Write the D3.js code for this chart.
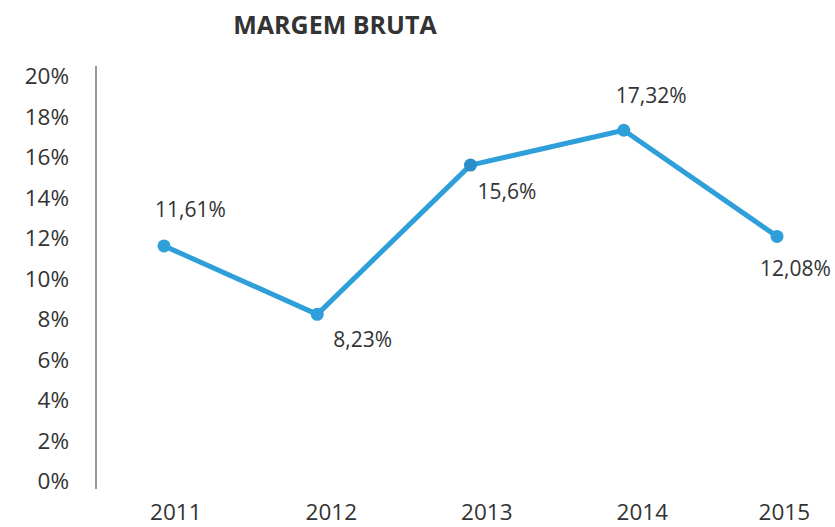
<!DOCTYPE html>
<html><head><meta charset="utf-8">
<script src="https://cdn.jsdelivr.net/npm/d3@7"></script>
<style>body{margin:0;background:#fff}text{font-family:"Open Sans",sans-serif;fill:#333}</style>
</head><body><svg id="c" width="835" height="527"></svg>
<script>
const title = "MARGEM BRUTA";
const years = ["2011","2012","2013","2014","2015"];
const margin = [11.61, 8.23, 15.6, 17.32, 12.08];
const valueLabels = ["11,61%","8,23%","15,6%","17,32%","12,08%"];
const labelShiftX = [-9, 16, 7, -8, -17];
const labelShiftY = [-29, 33, 34, -27, 40];
const yTicks = [0,2,4,6,8,10,12,14,16,18,20];

const svg = d3.select("#c");
const y = d3.scaleLinear().domain([0,20]).range([481,76]);
const x = d3.scalePoint().domain(years).range([164,777]);
const xl = d3.scalePoint().domain(years).range([175,797]);

svg.append("text").attr("x",335).attr("y",34).attr("text-anchor","middle")
  .style("font-weight","700").style("font-size","25px").text(title);

svg.append("line").attr("x1",96).attr("x2",96).attr("y1",66).attr("y2",489)
  .attr("stroke","#333").attr("stroke-width",1);

svg.selectAll(".yt").data(yTicks).join("text").attr("class","yt")
  .attr("x",69).attr("y",d=>y(d)).attr("dy","0.36em").attr("text-anchor","end")
  .style("font-size","22.5px").text(d=>d+"%");

svg.selectAll(".xt").data(years).join("text").attr("class","xt")
  .attr("x",d=>Math.min(xl(d)+26.5,810)).attr("y",520).attr("text-anchor","end")
  .style("font-size","22.5px").text(d=>d);

const pts = years.map((yr,i)=>({yr,v:margin[i],lab:valueLabels[i],dx:labelShiftX[i],dy:labelShiftY[i]}));
const line = d3.line().x(d=>x(d.yr)).y(d=>y(d.v));
svg.append("path").datum(pts).attr("d",line).attr("fill","none")
  .attr("stroke","#2F9FD9").attr("stroke-width",5).attr("stroke-linejoin","round");
svg.selectAll(".pt").data(pts).join("circle").attr("class","pt")
  .attr("cx",d=>x(d.yr)).attr("cy",d=>y(d.v)).attr("r",6.5).attr("fill",(d,i)=>i==2?"#2A8DC8":"#2F9FD9");

svg.selectAll(".vl").data(pts).join("text").attr("class","vl")
  .attr("x",d=>x(d.yr)+d.dx)
  .attr("y",d=>y(d.v)+d.dy)
  .style("font-size","21px").text(d=>d.lab);
</script></body></html>
